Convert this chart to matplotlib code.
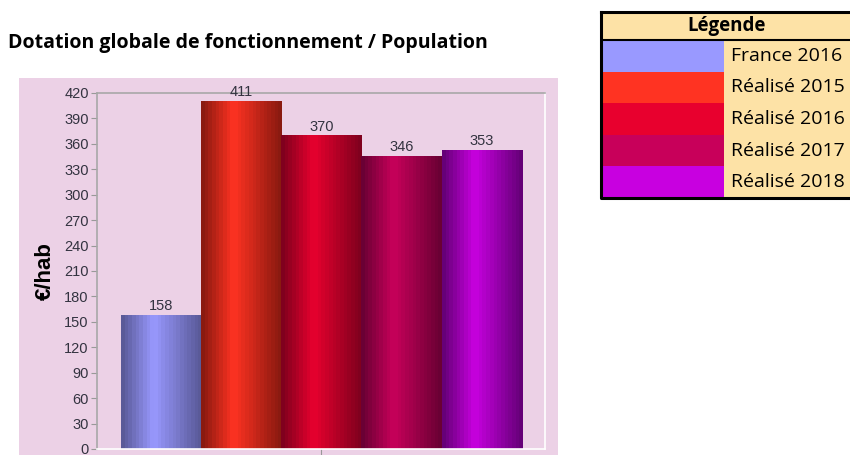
import numpy as np
import matplotlib
matplotlib.use('Agg')
import matplotlib.pyplot as plt
from matplotlib.colors import LinearSegmentedColormap
from matplotlib.patches import Rectangle

categories = ['France 2016', 'Réalisé 2015', 'Réalisé 2016', 'Réalisé 2017', 'Réalisé 2018']
values = [158, 411, 370, 346, 353]
light = ['#9999FF', '#FF3322', '#E8002E', '#C8005A', '#C800E0']
dark = ['#5A5A98', '#8A1A10', '#80001E', '#6A0034', '#660078']
yticks = list(range(0, 421, 30))

fig = plt.figure(figsize=(8.5, 4.55), dpi=100)
fig.patch.set_facecolor('white')

# pink panel behind the chart
fig.patches.append(Rectangle((19 / 850, 0), 539 / 850, 377 / 455, transform=fig.transFigure,
                             facecolor='#ECD1E6', edgecolor='none', zorder=-5))

fig.text(8 / 850, 1 - 43 / 455, 'Dotation globale de fonctionnement / Population',
         fontsize=14, fontweight='bold', family='Open Sans', va='center', ha='left')

ax = fig.add_axes([97 / 850, 6 / 455, 448 / 850, 356 / 455])
ax.set_facecolor('none')
x = np.arange(len(values))
bars = ax.bar(x, values, width=1.0, color=light, edgecolor='#dcd0dc', linewidth=0.7, zorder=2)

# vertical gradient shading on each bar
for b, c1, c2 in zip(bars, light, dark):
    cmap = LinearSegmentedColormap.from_list('g', [(0, c2), (0.4, c1), (1, c2)])
    grad = np.linspace(0, 1, 22).reshape(1, -1)
    im = ax.imshow(grad, cmap=cmap, aspect='auto', interpolation='nearest',
                   extent=(b.get_x(), b.get_x() + b.get_width(), 0, b.get_height()), zorder=2)
    im.set_clip_path(b)

for b, v in zip(bars, values):
    ax.text(b.get_x() + b.get_width() / 2, v + 2, str(v), ha='center', va='bottom',
            fontsize=10.5, color='#333340', family='Liberation Sans')

ax.set_xlim(-0.8, 4.79)
ax.set_ylim(0, 420)
ax.set_yticks(yticks)
ax.set_yticklabels([str(t) for t in yticks], fontsize=10.5, color='#333340', family='Liberation Sans')
ax.set_xticks([2])
ax.set_xticklabels([''])
ax.tick_params(axis='y', length=4, color='#999999', pad=2)
ax.tick_params(axis='x', length=5, color='#999999', direction='out')
for s in ['left', 'top']:
    ax.spines[s].set_color('#A8A8A8')
    ax.spines[s].set_linewidth(1.2)
for s in ['right', 'bottom']:
    ax.spines[s].set_color('#FFFFFF')
    ax.spines[s].set_linewidth(1.2)
ax.set_ylabel('€/hab', fontsize=16, fontweight='bold', family='Liberation Sans', labelpad=6)

# legend table
lg = fig.add_axes([601 / 850, 1 - 198 / 455, 252 / 850, 186 / 455])
lg.set_xlim(0, 1)
lg.set_ylim(6.0, 0)
lg.axis('off')
beige = '#FDE2A6'
hdr_h = 0.9
lg.add_patch(Rectangle((0, 0), 1, hdr_h, facecolor=beige, edgecolor='none'))
lg.text(0.5, hdr_h / 2, 'Légende', ha='center', va='center', fontsize=13.5, fontweight='bold', family='Open Sans')
row_h = (6.0 - hdr_h) / len(categories)
for i, (cat, col) in enumerate(zip(categories, light)):
    y0 = hdr_h + i * row_h
    lg.add_patch(Rectangle((0, y0), 0.49, row_h, facecolor=col, edgecolor='none'))
    lg.add_patch(Rectangle((0.49, y0), 0.51, row_h, facecolor=beige, edgecolor='none'))
    lg.text(0.515, y0 + row_h / 2, cat, ha='left', va='center', fontsize=14, family='Open Sans')
lg.plot([0, 1], [hdr_h, hdr_h], color='black', lw=1.5)
lg.plot([0, 1, 1, 0, 0], [0, 0, 6.0, 6.0, 0], color='black', lw=2.2, clip_on=False)

fig.savefig('out.png', dpi=100)
